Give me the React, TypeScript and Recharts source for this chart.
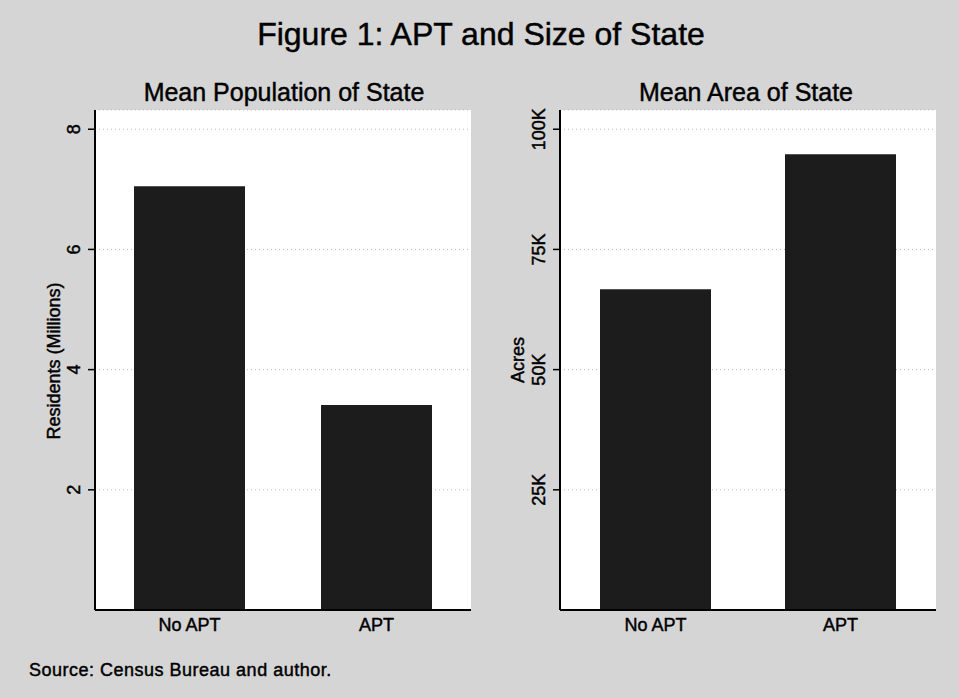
import React from "react";
import { BarChart, Bar, XAxis, YAxis, CartesianGrid } from "recharts";

const categories = ["No APT", "APT"];
const populationMillions = [7.05, 3.41];
const areaAcres = [66700, 94800];
const popTicks = [2, 4, 6, 8];
const areaTicks = [25000, 50000, 75000, 100000];
const areaTickLabels = ["25K", "50K", "75K", "100K"];

const popData = categories.map((c, i) => ({ name: c, value: populationMillions[i] }));
const areaData = categories.map((c, i) => ({ name: c, value: areaAcres[i] }));

const FONT = "'Liberation Sans', Arial, sans-serif";
const BG = "#d5d5d5";
const BAR = "#1c1c1c";
const TXT = { fill: "#000", stroke: "#000", strokeWidth: 0.45, fontFamily: FONT } as const;

const RotTick = (fmt: (v: number) => string) => (props: any) => {
  const { x, y, payload } = props;
  return (
    <text
      transform={`translate(${x},${y}) rotate(-90)`}
      textAnchor="middle"
      fontSize={18}
      {...TXT}
    >
      {fmt(payload.value)}
    </text>
  );
};

const XTick = (props: any) => {
  const { x, y, payload } = props;
  return (
    <text x={x} y={y} dy="0.71em" textAnchor="middle" fontSize={18} {...TXT}>
      {payload.value}
    </text>
  );
};

function Panel(props: {
  data: any[];
  domain: [number, number];
  ticks: number[];
  fmt: (v: number) => string;
  marginLeft: number;
  marginRight: number;
  width: number;
  pad: number;
}) {
  return (
    <BarChart
      width={props.width}
      height={698}
      data={props.data}
      margin={{ top: 110, right: props.marginRight, bottom: 58, left: props.marginLeft }}
      barSize={111}
    >
      <CartesianGrid
        horizontal
        vertical={false}
        fill="#ffffff"
        stroke="#bdbdbd"
        strokeDasharray="1 3"
      />
      <XAxis
        dataKey="name"
        height={30}
        tickLine={false}
        tickSize={0}
        tickMargin={8}
        padding={{ left: props.pad, right: props.pad }}
        axisLine={{ stroke: "#000", strokeWidth: 2 }}
        tick={<XTick />}
        interval={0}
      />
      <YAxis
        width={60}
        domain={props.domain}
        ticks={props.ticks}
        allowDataOverflow
        tickSize={7}
        tickMargin={8}
        axisLine={{ stroke: "#000", strokeWidth: 2 }}
        tickLine={{ stroke: "#000", strokeWidth: 1.5 }}
        tick={RotTick(props.fmt)}
      />
      <Bar dataKey="value" fill={BAR} isAnimationActive={false} />
    </BarChart>
  );
}

export default function App() {
  return (
    <div
      style={{
        position: "absolute",
        left: 0,
        top: 0,
        width: 959,
        height: 698,
        background: BG,
        overflow: "hidden",
        fontFamily: FONT,
      }}
    >
      <div style={{ position: "absolute", left: 0, top: 0 }}>
        <Panel
          data={popData}
          domain={[0, 8.32]}
          ticks={popTicks}
          fmt={(v) => String(v)}
          marginLeft={35}
          marginRight={9}
          width={480}
          pad={1}
        />
      </div>
      <div style={{ position: "absolute", left: 480, top: 0 }}>
        <Panel
          data={areaData}
          domain={[0, 104000]}
          ticks={areaTicks}
          fmt={(v) => areaTickLabels[areaTicks.indexOf(v)] ?? String(v)}
          marginLeft={20}
          marginRight={23}
          width={479}
          pad={3}
        />
      </div>
      <svg
        width={959}
        height={698}
        style={{ position: "absolute", left: 0, top: 0, pointerEvents: "none" }}
      >
        <text x={481} y={45} textAnchor="middle" fontSize={32} {...TXT}>
          Figure 1: APT and Size of State
        </text>
        <text x={284} y={101} textAnchor="middle" fontSize={25} {...TXT}>
          Mean Population of State
        </text>
        <text x={746} y={101} textAnchor="middle" fontSize={25} {...TXT}>
          Mean Area of State
        </text>
        <text transform="translate(60,361) rotate(-90)" textAnchor="middle" fontSize={18} {...TXT}>
          Residents (Millions)
        </text>
        <text transform="translate(524,360) rotate(-90)" textAnchor="middle" fontSize={18} {...TXT}>
          Acres
        </text>
        <text x={29} y={676} fontSize={18} letterSpacing={0.5} {...TXT}>
          Source: Census Bureau and author.
        </text>
      </svg>
    </div>
  );
}
